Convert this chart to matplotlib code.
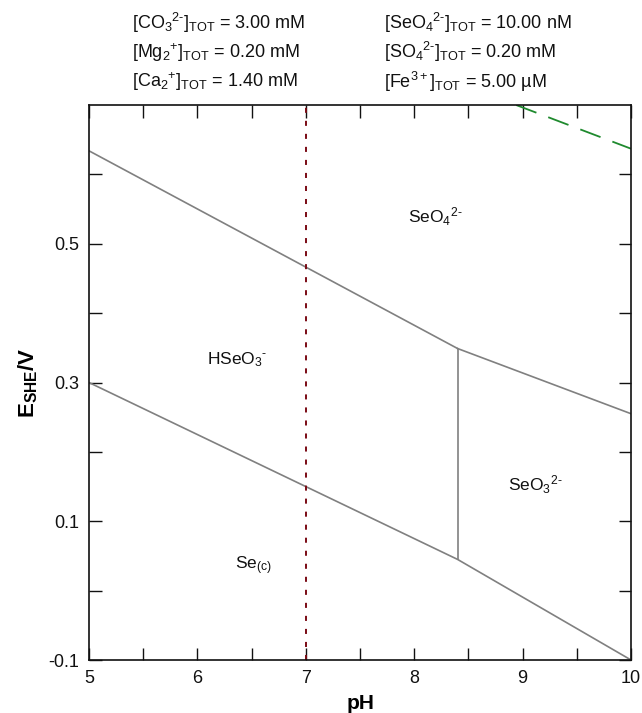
import matplotlib
matplotlib.use("Agg")
import matplotlib.pyplot as plt
from matplotlib.ticker import MultipleLocator, FixedLocator

plt.rcParams["font.family"] = ["Liberation Sans", "DejaVu Sans"]
plt.rcParams["mathtext.fontset"] = "custom"
plt.rcParams["mathtext.rm"] = "Liberation Sans"
plt.rcParams["mathtext.it"] = "Liberation Sans:italic"
plt.rcParams["mathtext.bf"] = "Liberation Sans:bold"
plt.rcParams["axes.unicode_minus"] = False

# Stability boundaries (pH, E / V)
upper_ph = [5.0, 8.4]
upper_e = [0.634, 0.349]
right_ph = [8.4, 10.0]
right_e = [0.349, 0.255]
lower_ph = [5.0, 8.4, 10.0]
lower_e = [0.300, 0.045, -0.100]
vert_ph = [8.4, 8.4]
vert_e = [0.045, 0.349]
# Water oxidation line
fe_ph = [8.94, 10.0]
fe_e = [0.700, 0.637]
ph_marker = 7.0

species = ["SeO$_4$$^{2\\text{-}}$", "HSeO$_3$$^{\\text{-}}$", "SeO$_3$$^{2\\text{-}}$", "Se$_{\\rm (c)}$"]
species_ph = [8.19, 6.37, 9.12, 6.52]
species_e = [0.539, 0.333, 0.153, 0.036]

header_left = [
    "[CO$_3$$^{2\\text{-}}$]$_{\\rm TOT}$ = 3.00 mM",
    "[Mg$_2$$^{+}$]$_{\\rm TOT}$ = 0.20 mM",
    "[Ca$_2$$^{+}$]$_{\\rm TOT}$ = 1.40 mM",
]
header_right = [
    "[SeO$_4$$^{2\\text{-}}$]$_{\\rm TOT}$ = 10.00 nM",
    "[SO$_4$$^{2\\text{-}}$]$_{\\rm TOT}$ = 0.20 mM",
    "[Fe$^{3+}$]$_{\\rm TOT}$ = 5.00 µM",
]

fig = plt.figure(figsize=(6.42, 7.13), dpi=100)
ax = fig.add_axes([0.1386, 0.0743, 0.8444, 0.7784])

gray = "#808080"
ax.plot(upper_ph, upper_e, color=gray, lw=1.2)
ax.plot(right_ph, right_e, color=gray, lw=1.2)
ax.plot(lower_ph, lower_e, color=gray, lw=1.2)
ax.plot(vert_ph, vert_e, color=gray, lw=1.2)
ax.plot(fe_ph, fe_e, color="#1f8a2e", lw=1.3, dashes=(12, 7))
ax.axvline(ph_marker, color="#7a0a14", lw=1.4, dashes=(2.6, 4.1))

for name, x, y in zip(species, species_ph, species_e):
    ax.text(x, y, name, fontsize=12.5, ha="center", va="center", color="#111111")

ax.set_xlim(5, 10)
ax.set_ylim(-0.1, 0.7)
ax.xaxis.set_major_locator(MultipleLocator(1))
ax.xaxis.set_minor_locator(MultipleLocator(0.5))
ax.yaxis.set_major_locator(FixedLocator([-0.1, 0.1, 0.3, 0.5]))
ax.yaxis.set_minor_locator(FixedLocator([0.0, 0.2, 0.4, 0.6]))
ax.set_yticklabels(["-0.1", "0.1", "0.3", "0.5"])
ax.tick_params(which="both", direction="in", top=True, right=True,
               length=9, width=1.0, labelsize=13, pad=7, colors="#111111")
for s in ax.spines.values():
    s.set_linewidth(1.2)
    s.set_color("#111111")

ax.set_xlabel("pH", fontsize=15, fontweight="bold", labelpad=5)
ax.set_ylabel("$\\mathbf{E_{SHE}/V}$", fontsize=16, labelpad=6)

for i, (l, r) in enumerate(zip(header_left, header_right)):
    y = 0.968 - i * 0.0415
    fig.text(0.205, y, l, fontsize=13, ha="left", va="center", color="#111111")
    fig.text(0.598, y, r, fontsize=13, ha="left", va="center", color="#111111")

fig.savefig("out.png", dpi=100)
